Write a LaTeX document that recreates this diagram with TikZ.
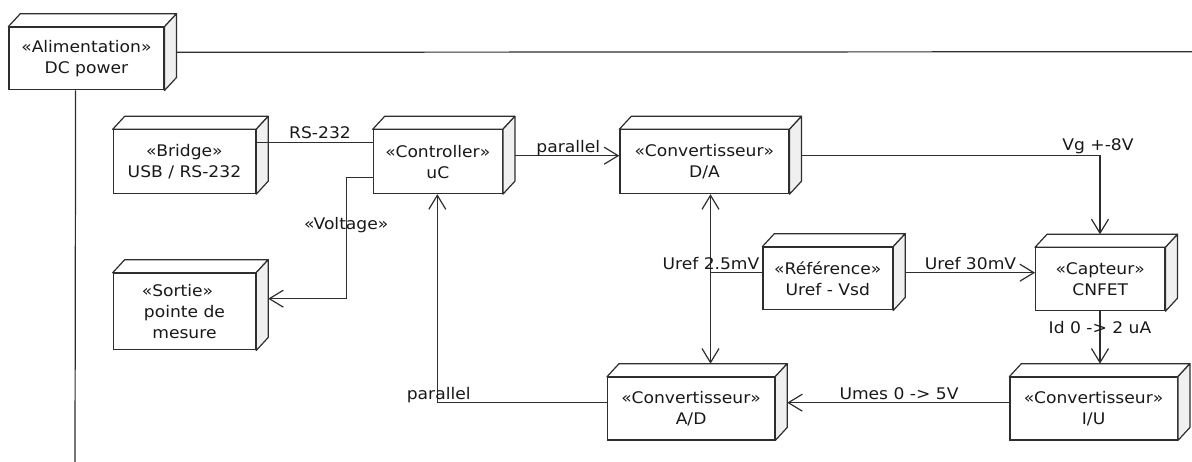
\documentclass[tikz,border=0pt]{standalone}
\usepackage{fontspec}
\setmainfont{DejaVu Sans}[FakeStretch=1.07]
\usetikzlibrary{arrows.meta,calc}
\definecolor{lc}{HTML}{2E2E2E}
\definecolor{sideface}{HTML}{F0F0F0}
\tikzset{
  box/.style={draw=lc, fill=white, line width=1.2pt, inner sep=0pt, anchor=north west, align=center, text=black!90, font=\fontsize{16}{21.4}\selectfont},
  lbl/.style={anchor=base, inner sep=0pt, text=black!90, font=\fontsize{16}{19}\selectfont},
  conn/.style={draw=lc, line width=1.2pt},
  arr/.style={conn, -{Straight Barb[length=14pt,width=17pt,line width=1.2pt]}},
  arrboth/.style={conn, {Straight Barb[length=14pt,width=17pt,line width=1.2pt]}-{Straight Barb[length=14pt,width=17pt,line width=1.2pt]}},
}
\newcommand{\nodedepth}[1]{%
  \filldraw[draw=lc, line width=1.2pt, fill=white, line join=round] (#1.north west) -- ++(12,-13) -- ($(#1.north east)+(12,-13)$) -- (#1.north east) -- cycle;
  \filldraw[draw=lc, line width=1.2pt, fill=sideface, line join=round] (#1.north east) -- ($(#1.north east)+(12,-13)$) -- ($(#1.south east)+(12,-13)$) -- (#1.south east) -- cycle;
}
\begin{document}
\begin{tikzpicture}[x=1pt,y=-1pt]
\useasboundingbox[fill=white] (0,0) rectangle (1192,462);

% boxes
\node[box, minimum width=155pt, minimum height=62.6pt] (alim) at (8.3,26.7) {«Alimentation»\\DC power};
\node[box, minimum width=142.3pt, minimum height=63.7pt] (bridge) at (112.7,129.3) {«Bridge»\\USB / RS-232};
\node[box, minimum width=129pt, minimum height=63.7pt] (uC) at (372.7,129.3) {«Controller»\\uC};
\node[box, minimum width=169pt, minimum height=63.7pt] (DA) at (619.3,129.3) {«Convertisseur»\\D/A};
\node[box, minimum width=142.3pt, minimum height=76.6pt] (sortie) at (112.7,272.7) {«Sortie»\kern14pt\\pointe de\\mesure};
\node[box, minimum width=129.7pt, minimum height=62.6pt] (ref) at (762.3,246.7) {«Référence»\\Uref - Vsd};
\node[box, minimum width=129.3pt, minimum height=62.7pt] (capteur) at (1035,247.3) {«Capteur»\\CNFET};
\node[box, minimum width=167pt, minimum height=62.6pt] (AD) at (607,376.7) {«Convertisseur»\\A/D};
\node[box, minimum width=167.4pt, minimum height=62.6pt] (IU) at (1009.3,376.7) {«Convertisseur»\\I/U};

\nodedepth{alim}
\nodedepth{bridge}
\nodedepth{uC}
\nodedepth{DA}
\nodedepth{sortie}
\nodedepth{ref}
\nodedepth{capteur}
\nodedepth{AD}
\nodedepth{IU}

% free ends and bends
\coordinate (alimR) at (1192,51.7);
\coordinate (alimB) at (75,462);
\coordinate (vbend) at (346.7,177.7);
\coordinate (j1) at (710.5,272.7);
\coordinate (pbend) at (437.3,402.7);

% connectors
\draw[conn] ($(alim.east)+(12,-6.3)$) -- (alimR);
\draw[conn] ($(alim.south)+(-10.8,0)$) -- (alimB);
\draw[conn] (bridge.east |- 0,142.7) -- (uC.west |- 0,142.7);
\draw[arr] (uC.west |- vbend) -- (vbend) |- ($(sortie.east |- 0,298.7)+(12,0)$);
\draw[arr] ($(uC.east |- 0,155.7)+(12,0)$) -- (DA.west |- 0,155.7);
\draw[arr] ($(DA.east |- 0,155.7)+(12,0)$) -| ($(capteur.north -| 1100,0)+(0,-13)$);
\draw[arrboth] (DA.south -| j1) -- ($(AD.north -| j1)+(0,-13)$);
\draw[conn] (j1) -- (ref.west |- j1);
\draw[arr] ($(ref.east |- j1)+(12,0)$) -- (capteur.west |- j1);
\draw[arr] (capteur.south -| 1100,0) -- ($(IU.north -| 1100,0)+(0,-13)$);
\draw[arr] (IU.west |- pbend) -- ($(AD.east |- pbend)+(12,0)$);
\draw[arr] (AD.west |- pbend) -- (pbend) -- (uC.south -| pbend);

% labels
\node[lbl] (lrs) at (320,138.7) {RS-232};
\node[lbl] (lpar1) at (568.3,152.3) {parallel};
\node[lbl] (lvolt) at (346.2,229.3) {«Voltage»};
\node[lbl] (lvg) at (1098,151) {Vg +-8V};
\node[lbl] (luref1) at (711,269.5) {Uref 2.5mV};
\node[lbl] (luref2) at (970.5,269.5) {Uref 30mV};
\node[lbl] (lid) at (1100,334) {Id 0 -> 2 uA};
\node[lbl] (lumes) at (899,399.3) {Umes 0 -> 5V};
\node[lbl] (lpar2) at (438.7,399.3) {parallel};
\end{tikzpicture}
\end{document}
